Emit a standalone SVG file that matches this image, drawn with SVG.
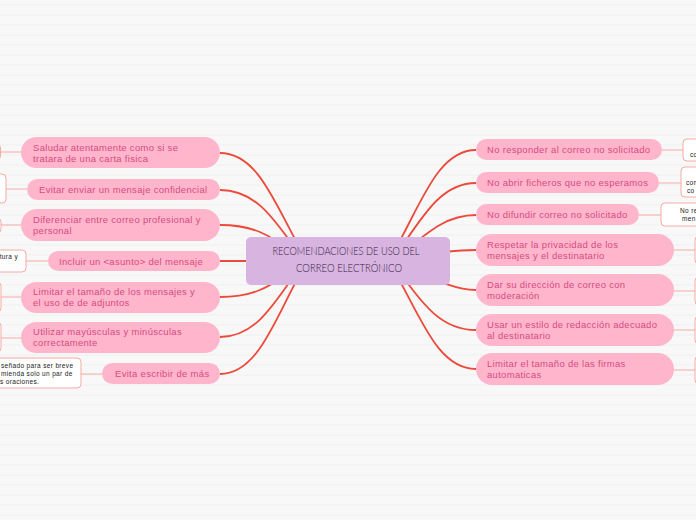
<svg xmlns="http://www.w3.org/2000/svg" width="696" height="520" viewBox="0 0 696 520">
<defs>
<pattern id="bg" x="0" y="0" width="696" height="10" patternUnits="userSpaceOnUse">
<rect x="0" y="0" width="696" height="10" fill="#f8f8f8"/>
<rect x="0" y="4.5" width="696" height="1" fill="#f0f0f0"/>
</pattern>
</defs>
<style>
.main rect{fill:#ffb6cd}
.main text{font-family:"Liberation Sans",Arial,sans-serif;font-size:9.5px;letter-spacing:0.3px;fill:#d64a80}
.leaf rect{fill:#ffffff;stroke:#f5aaa3;stroke-width:1}
.leaf text{font-family:"Liberation Sans",Arial,sans-serif;font-size:6.5px;letter-spacing:0.35px;fill:#222}
.br{fill:none;stroke:#ec4a3a;stroke-width:1.8}
.lk{fill:none;stroke:#f5aaa3;stroke-width:1}
.ct{font-family:Lato,"Liberation Sans",sans-serif;font-weight:300;font-size:11.5px;fill:#35203f}
</style>
<rect x="0" y="0" width="696" height="520" fill="url(#bg)"/>
<g id="connectors">
<path class="br" d="M220,153 C262,153 278,215 310,265"/>
<path class="br" d="M220,190 C258,190 276,222 305,262"/>
<path class="br" d="M220,225 C250,225 268,232 300,258"/>
<path class="br" d="M220,261 L300,261"/>
<path class="br" d="M220,297 C250,297 268,290 300,264"/>
<path class="br" d="M220,337 C258,337 276,300 305,260"/>
<path class="br" d="M220,374 C262,374 278,307 310,257"/>
<path class="br" d="M476,150 C434,150 418,215 386,265"/>
<path class="br" d="M476,183 C438,183 420,222 391,262"/>
<path class="br" d="M476,215 C446,215 428,232 396,258"/>
<path class="br" d="M476,250 C456,250 440,252 400,258"/>
<path class="br" d="M476,290 C456,290 440,282 400,264"/>
<path class="br" d="M476,330 C438,330 420,300 391,260"/>
<path class="br" d="M476,369 C434,369 418,307 386,257"/>
<path class="lk" d="M0,152 L21,152"/>
<path class="lk" d="M6,189 L27,189"/>
<path class="lk" d="M1,225 L21,225"/>
<path class="lk" d="M26,261 L48,261"/>
<path class="lk" d="M1,297 L21,297"/>
<path class="lk" d="M1,338 L21,338"/>
<path class="lk" d="M81,374 L102,374"/>
<path class="lk" d="M662,150 L683,150"/>
<path class="lk" d="M659,183 L681,183"/>
<path class="lk" d="M639,215 L661,215"/>
<path class="lk" d="M674,250 L695,250"/>
<path class="lk" d="M674,291 L695,291"/>
<path class="lk" d="M674,330 L695,330"/>
<path class="lk" d="M674,370 L695,370"/>
</g>
<g id="center">
<rect x="246" y="237" width="204" height="48" rx="5" fill="#d8b4e0"/>
<text class="ct" x="346" y="255" text-anchor="middle" textLength="147" lengthAdjust="spacingAndGlyphs">RECOMENDACIONES DE USO DEL</text>
<text class="ct" x="349" y="272" text-anchor="middle" textLength="106" lengthAdjust="spacingAndGlyphs">CORREO ELECTRÓNICO</text>
</g>
<g id="n1" class="main"><rect x="21" y="137" width="199" height="31" rx="15.5"/><text x="33" y="150.5">Saludar atentamente como si se<tspan x="33" dy="11">tratara de una carta fisica</tspan></text></g>
<g id="n2" class="main"><rect x="27" y="179" width="193" height="21" rx="10.5"/><text x="39" y="193.3">Evitar enviar un mensaje confidencial</text></g>
<g id="n3" class="main"><rect x="21" y="209" width="199" height="32" rx="16"/><text x="33" y="223">Diferenciar entre correo profesional y<tspan x="33" dy="11">personal</tspan></text></g>
<g id="n4" class="main"><rect x="48" y="251" width="172" height="20" rx="10"/><text x="59" y="264.5">Incluir un &lt;asunto&gt; del mensaje</text></g>
<g id="n5" class="main"><rect x="21" y="282" width="199" height="31" rx="15.5"/><text x="33" y="295.3">Limitar el tamaño de los mensajes y<tspan x="33" dy="11">el uso de de adjuntos</tspan></text></g>
<g id="n6" class="main"><rect x="21" y="322" width="199" height="31" rx="15.5"/><text x="33" y="335.3">Utilizar mayúsculas y minúsculas<tspan x="33" dy="11">correctamente</tspan></text></g>
<g id="n7" class="main"><rect x="102" y="363" width="118" height="21" rx="10.5"/><text x="115" y="377.3">Evita escribir de más</text></g>
<g id="r1" class="main"><rect x="476" y="139" width="186" height="21" rx="10.5"/><text x="487" y="153.3">No responder al correo no solicitado</text></g>
<g id="r2" class="main"><rect x="476" y="172" width="183" height="21" rx="10.5"/><text x="487" y="186.3">No abrir ficheros que no esperamos</text></g>
<g id="r3" class="main"><rect x="476" y="204" width="163" height="21" rx="10.5"/><text x="487" y="218.3">No difundir correo no solicitado</text></g>
<g id="r4" class="main"><rect x="476" y="234" width="198" height="32" rx="16"/><text x="487" y="248">Respetar la privacidad de los<tspan x="487" dy="11">mensajes y el destinatario</tspan></text></g>
<g id="r5" class="main"><rect x="476" y="274" width="198" height="32" rx="16"/><text x="487" y="288">Dar su dirección de correo con<tspan x="487" dy="11">moderación</tspan></text></g>
<g id="r6" class="main"><rect x="476" y="314" width="198" height="32" rx="16"/><text x="487" y="328">Usar un estilo de redacción adecuado<tspan x="487" dy="11">al destinatario</tspan></text></g>
<g id="r7" class="main"><rect x="476" y="353" width="198" height="32" rx="16"/><text x="487" y="367.3">Limitar el tamaño de las firmas<tspan x="487" dy="11">automaticas</tspan></text></g>
<g id="l1" class="leaf"><rect x="-60" y="144" width="60.5" height="16" rx="4"/></g>
<g id="l2" class="leaf"><rect x="-60" y="174" width="66" height="29" rx="4"/></g>
<g id="l3" class="leaf"><rect x="-60" y="218" width="61" height="15" rx="4"/></g>
<g id="l4" class="leaf"><rect x="-60" y="250" width="86" height="22" rx="4"/><text x="18" y="259" text-anchor="end">tura y</text></g>
<g id="l5" class="leaf"><rect x="-60" y="282" width="61" height="30" rx="4"/></g>
<g id="l6" class="leaf"><rect x="-60" y="322" width="61" height="30" rx="4"/></g>
<g id="l7" class="leaf"><rect x="-80" y="358" width="161" height="30" rx="4"/><text x="1" y="368.3">señado para ser breve<tspan x="1" dy="7.6">mienda solo un par de</tspan><tspan x="0" dy="7.6">s oraciones.</tspan></text></g>
<g id="m1" class="leaf"><rect x="683" y="139" width="80" height="22" rx="4"/><text x="690" y="157">co</text></g>
<g id="m2" class="leaf"><rect x="681" y="167" width="80" height="30" rx="4"/><text x="686" y="184.5">com<tspan x="687" dy="8.5">co</tspan></text></g>
<g id="m3" class="leaf"><rect x="661" y="203" width="80" height="23" rx="4"/><text x="680" y="213">No re<tspan x="682" dy="8">men</tspan></text></g>
<g id="m4" class="leaf"><rect x="695" y="236" width="60" height="28" rx="4"/></g>
<g id="m5" class="leaf"><rect x="695" y="277" width="60" height="28" rx="4"/></g>
<g id="m6" class="leaf"><rect x="695" y="316" width="60" height="28" rx="4"/></g>
<g id="m7" class="leaf"><rect x="695" y="356" width="60" height="28" rx="4"/></g>
</svg>
